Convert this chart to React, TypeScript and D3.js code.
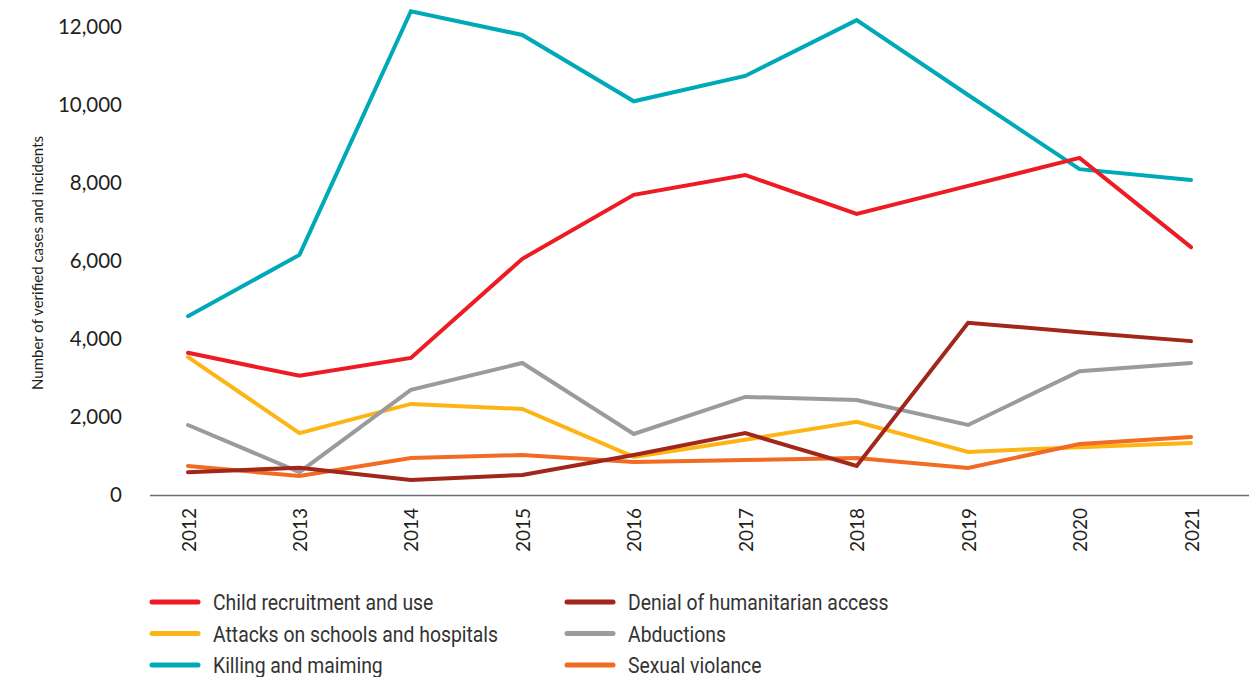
import React from "react";
import * as d3 from "d3";

const years = [2012, 2013, 2014, 2015, 2016, 2017, 2018, 2019, 2020, 2021];
const yTicks = [0, 2000, 4000, 6000, 8000, 10000, 12000];

const killingMaiming = [4560, 6130, 12380, 11770, 10070, 10720, 12150, 10230, 8330, 8050];
const childRecruitment = [3620, 3030, 3490, 6030, 7670, 8180, 7180, 7900, 8620, 6330];
const attacksSchools = [3510, 1560, 2310, 2180, 950, 1390, 1850, 1080, 1200, 1310];
const abductions = [1770, 560, 2670, 3360, 1540, 2490, 2410, 1770, 3150, 3360];
const sexualViolence = [720, 460, 920, 1000, 820, 870, 920, 670, 1280, 1460];
const denialAccess = [560, 670, 360, 490, 1000, 1560, 720, 4390, 4150, 3920];

const seriesNames = [
  "Killing and maiming",
  "Child recruitment and use",
  "Attacks on schools and hospitals",
  "Abductions",
  "Sexual violance",
  "Denial of humanitarian access",
];
const seriesValues = [killingMaiming, childRecruitment, attacksSchools, abductions, sexualViolence, denialAccess];
const seriesColors = ["#00A9B7", "#ED1C24", "#FDB515", "#9B9B9D", "#F26B23", "#A0271A"];

const legendOrder = [
  "Child recruitment and use",
  "Denial of humanitarian access",
  "Attacks on schools and hospitals",
  "Abductions",
  "Killing and maiming",
  "Sexual violance",
];

export default function App() {
  const W = 1249;
  const H = 677;
  const x = d3.scalePoint<number>().domain(years).range([188, 1191]);
  const y = d3.scaleLinear().domain([0, 12000]).range([494, 26]);
  const line = d3
    .line<number>()
    .x((_, i) => x(years[i]) as number)
    .y((d) => y(d));
  const fmt = d3.format(",");
  const axisFont = "Lato, 'Open Sans', sans-serif";
  const legendFont = "Roboto, 'Open Sans', sans-serif";

  return (
    <div style={{ position: "absolute", left: 0, top: 0 }}>
      <svg width={W} height={H} style={{ display: "block", background: "#fff" }}>
        {yTicks.map((t) => (
          <text
            key={t}
            x={122}
            y={y(t)}
            textAnchor="end"
            dominantBaseline="central"
            fontFamily={axisFont}
            fontSize={20.5}
            fill="#231f20"
          >
            {fmt(t)}
          </text>
        ))}
        <text
          transform={`translate(37, ${y(6000) + 3}) rotate(-90)`}
          textAnchor="middle"
          dominantBaseline="central"
          fontFamily={axisFont}
          fontSize={15}
          fill="#231f20"
        >
          Number of verified cases and incidents
        </text>
        <line x1={150} x2={W} y1={495.5} y2={495.5} stroke="#6d6e71" strokeWidth={1.5} />
        {years.map((yr) => (
          <text
            key={yr}
            transform={`translate(${x(yr)}, 508) rotate(-90)`}
            textAnchor="end"
            dominantBaseline="central"
            fontFamily={axisFont}
            fontSize={19}
            fill="#231f20"
          >
            {yr}
          </text>
        ))}
        {seriesValues.map((vals, i) => (
          <path
            key={seriesNames[i]}
            d={line(vals) || ""}
            fill="none"
            stroke={seriesColors[i]}
            strokeWidth={4}
            strokeLinecap="round"
            strokeLinejoin="miter"
          />
        ))}
        {legendOrder.map((name, k) => {
          const col = k % 2;
          const row = Math.floor(k / 2);
          const idx = seriesNames.indexOf(name);
          const lx = col === 0 ? 152 : 567;
          const ly = 602 + row * 31.5;
          return (
            <g key={name}>
              <line
                x1={lx}
                x2={lx + 46}
                y1={ly}
                y2={ly}
                stroke={seriesColors[idx]}
                strokeWidth={5}
                strokeLinecap="round"
              />
              <text
                transform={`translate(${lx + 61}, ${ly + 1}) scale(0.88, 1)`}
                dominantBaseline="central"
                fontFamily={legendFont}
                fontSize={22}
                fill="#333"
              >
                {name}
              </text>
            </g>
          );
        })}
      </svg>
    </div>
  );
}
